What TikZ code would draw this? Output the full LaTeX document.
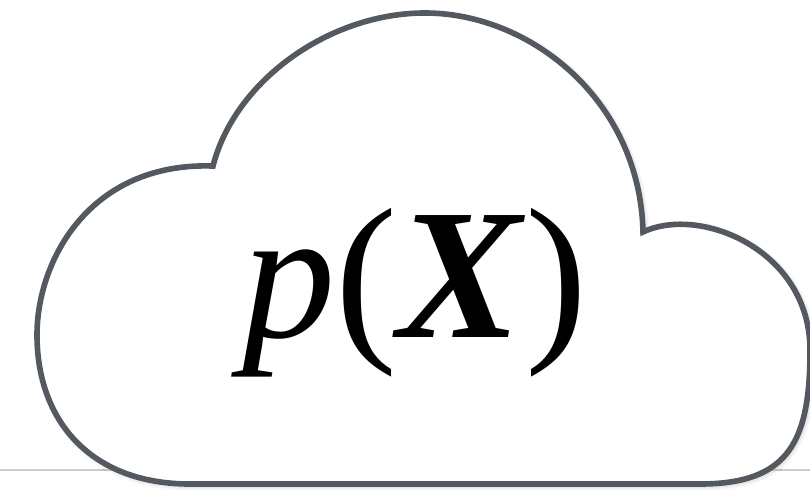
\documentclass[tikz,border=0pt]{standalone}
\usepackage{fontspec}
\setmainfont{Liberation Serif}
\usetikzlibrary{shadows.blur}
\definecolor{cloudedge}{RGB}{84,89,95}
\definecolor{floorgray}{RGB}{205,205,205}

\begin{document}
\begin{tikzpicture}[x=0.02cm, y=-0.02cm,
    cloudbody/.style={draw=cloudedge, fill=white, line width=3.2pt, line join=miter,
      blur shadow={shadow xshift=1pt, shadow yshift=-1pt, shadow blur radius=3pt,
        shadow opacity=30}},
    floorline/.style={draw=floorgray, line width=0.7pt},
    dist/.style={font=\fontsize{106}{106}\selectfont, inner sep=0pt}]
  \useasboundingbox (0,0) rectangle (810,490);
  % thin rule behind the cloud
  \coordinate (floor west) at (0,470);
  \coordinate (floor east) at (810,470);
  \draw[floorline] (floor west) -- (floor east);
  % cloud: top lobe, right lobe, flat bottom, left lobe
  \coordinate (cusp left) at (213,166);
  \coordinate (cusp right) at (643,232);
  \path[cloudbody] (cusp left)
    .. controls (235,80) and (330,13) .. (425,13)
    .. controls (530,13) and (640,100) .. (cusp right)
    .. controls (700,205) and (810,250) .. (810,350)
    .. controls (810,440) and (790,484) .. (700,484)
    -- (190,484)
    .. controls (90,484) and (37,420) .. (37,335)
    .. controls (37,260) and (90,162) .. (cusp left)
    -- cycle;
  \node[dist, anchor=base] (px) at (415,337) {\textit{p}(\textbf{\textit{X}})};
\end{tikzpicture}
\end{document}
